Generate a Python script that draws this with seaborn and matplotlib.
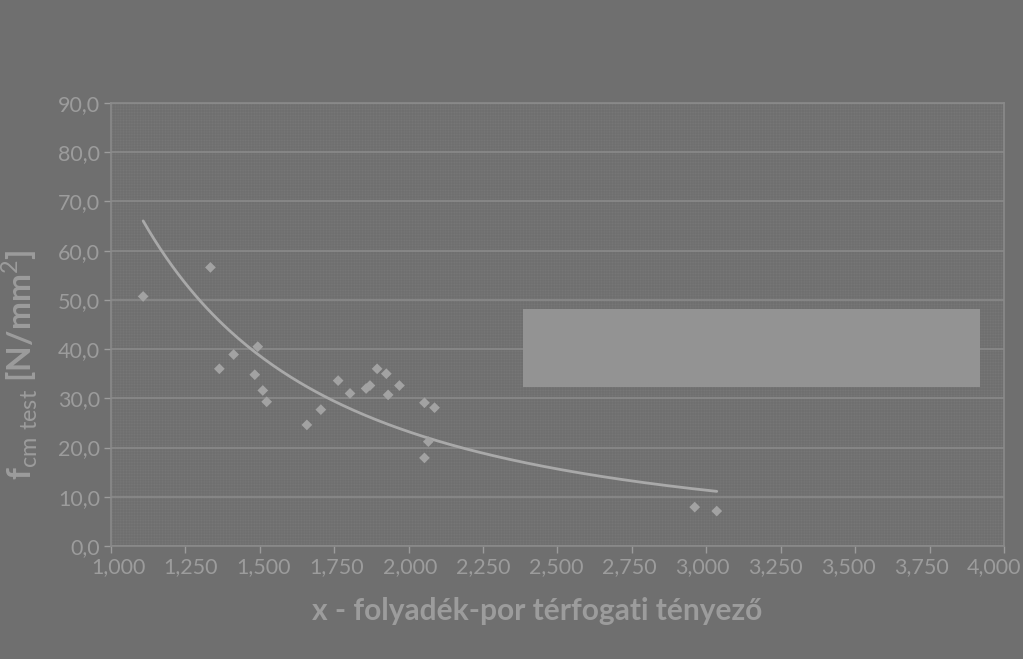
import numpy as np
import matplotlib
matplotlib.use("Agg")
import matplotlib.pyplot as plt
import matplotlib.transforms as mtransforms
import seaborn as sns
from matplotlib.patches import Rectangle
from matplotlib.ticker import FuncFormatter

# measured points: x = liquid/powder volume ratio, y = f_cm,test [N/mm2]
x_ratio = [1.108, 1.334, 1.364, 1.412, 1.493, 1.483, 1.510, 1.523, 1.658, 1.705,
           1.763, 1.803, 1.857, 1.870, 1.894, 1.925, 1.931, 1.969, 2.053, 2.087,
           2.066, 2.053, 2.961, 3.035]
f_cm = [50.7, 56.6, 36.0, 38.9, 40.5, 34.8, 31.6, 29.3, 24.6, 27.7,
        33.6, 31.0, 32.0, 32.6, 36.0, 35.0, 30.7, 32.6, 29.1, 28.1,
        21.2, 17.9, 7.9, 7.1]

x_ticks = [1.0, 1.25, 1.5, 1.75, 2.0, 2.25, 2.5, 2.75, 3.0, 3.25, 3.5, 3.75, 4.0]
y_ticks = [0, 10, 20, 30, 40, 50, 60, 70, 80, 90]

BG = "#6f6f6f"
LIGHT = "#9c9c9c"
GRID = "#8a8a8a"

sns.set_theme(style="white")
plt.rcParams["font.family"] = ["Lato", "DejaVu Sans"]
plt.rcParams["mathtext.fontset"] = "custom"
plt.rcParams["mathtext.rm"] = "Lato"
plt.rcParams["mathtext.bf"] = "Lato:bold"
plt.rcParams["hatch.linewidth"] = 0.35

fig = plt.figure(figsize=(10.23, 6.59), dpi=100, facecolor=BG)
ax = fig.add_axes([111 / 1023, 113 / 659, 893 / 1023, 443 / 659])
ax.set_facecolor(BG)

# fine crosshatch pattern of the plot area
ax.add_patch(Rectangle((0, 0), 1, 1, transform=ax.transAxes, facecolor=BG,
                       edgecolor="#777777", hatch="++++++", lw=0, zorder=0))

# power trendline (like Excel) fitted to the points
lx, ly = np.log(x_ratio), np.log(f_cm)
b, lna = np.polyfit(lx, ly, 1)
xs = np.linspace(min(x_ratio), max(x_ratio), 200)
ax.plot(xs, np.exp(lna) * xs ** b, color="#a9a9a9", lw=2, zorder=3)

sns.scatterplot(x=x_ratio, y=f_cm, ax=ax, marker="D", s=30, color="#a2a2a2",
                edgecolor="none", zorder=4)

ax.set_xlim(1.0, 4.0)
ax.set_ylim(0, 90)
ax.set_xticks(x_ticks)
ax.set_yticks(y_ticks)
ax.xaxis.set_major_formatter(FuncFormatter(lambda v, p: f"{v:.3f}".replace(".", ",")))
ax.yaxis.set_major_formatter(FuncFormatter(lambda v, p: f"{v:.1f}".replace(".", ",")))
ax.grid(axis="y", color=GRID, lw=1.2)
ax.set_axisbelow(True)
for s in ax.spines.values():
    s.set_color(GRID)
    s.set_linewidth(1.2)
ax.tick_params(colors=LIGHT, labelsize=15.5, length=5, width=1, direction="out",
               left=True, bottom=True, pad=3)
for t in ax.get_xticklabels() + ax.get_yticklabels():
    t.set_color(LIGHT)

# x labels are spread a bit tighter than the ticks (right at 1,000, left at 4,000)
for v, t in zip(x_ticks, ax.get_xticklabels()):
    dx = (7 - (v - 1) * 17 / 3) / 100
    t.set_transform(t.get_transform() + mtransforms.ScaledTranslation(dx, 0, fig.dpi_scale_trans))

# legend box (empty in the source)
ax.add_patch(Rectangle((523, 659 - 387), 457, 78, transform=None, figure=fig,
                       facecolor="#939393", edgecolor="none", zorder=5))

ax.set_xlabel("x - folyadék-por térfogati tényező", fontsize=21.5, fontweight="bold",
              color=LIGHT)
ax.xaxis.set_label_coords(0.477, -0.115)
ax.set_ylabel(r"$\mathbf{f}_{\mathrm{cm\ test}}$ [N/mm$^{2}$]", fontsize=24,
              fontweight="bold", color=LIGHT)
ax.yaxis.set_label_coords(-0.079, 0.41)

fig.savefig("out.png", dpi=100, facecolor=BG)
